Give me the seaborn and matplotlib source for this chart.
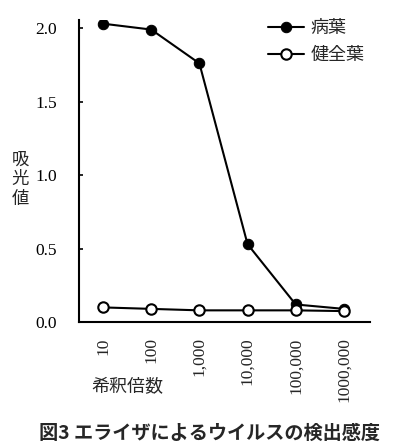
import numpy as np
import pandas as pd
import matplotlib
matplotlib.use("Agg")
import matplotlib.pyplot as plt
import seaborn as sns

dilution_labels = ["10", "100", "1,000", "10,000", "100,000", "1000,000"]
diseased = [2.03, 1.99, 1.76, 0.53, 0.12, 0.09]
healthy = [0.10, 0.09, 0.08, 0.08, 0.08, 0.075]
series_names = ["病葉", "健全葉"]

sns.set_theme(style="ticks")
plt.rcParams['font.family'] = ['Noto Sans CJK JP', 'DejaVu Sans']

pos = np.arange(len(dilution_labels))
df = pd.DataFrame({
    "pos": np.concatenate([pos, pos]),
    "value": diseased + healthy,
    "series": [series_names[0]] * len(pos) + [series_names[1]] * len(pos),
})

fig = plt.figure(figsize=(3.99, 4.48), dpi=100)
ax = fig.add_axes([0.198, 0.281, 0.729, 0.674])

sns.lineplot(data=df[df.series == series_names[0]], x="pos", y="value", ax=ax,
             color="black", lw=1.5, marker="o", markersize=7.5,
             markerfacecolor="black", markeredgecolor="black", label=series_names[0])
sns.lineplot(data=df[df.series == series_names[1]], x="pos", y="value", ax=ax,
             color="black", lw=1.5, marker="o", markersize=7.5,
             markerfacecolor="white", markeredgecolor="black", markeredgewidth=1.5,
             label=series_names[1])

ax.set_xlim(-0.5, 5.54)
ax.set_ylim(0, 2.054)
ax.set_yticks([0, 0.5, 1.0, 1.5, 2.0])
ax.set_yticklabels(["0.0", "0.5", "1.0", "1.5", "2.0"], fontfamily="Liberation Serif", fontsize=12.5)
ax.set_xticks(pos)
ax.set_xticklabels(dilution_labels, rotation=90, fontfamily="Liberation Serif", fontsize=12.5,
                   va="top")
ax.tick_params(axis="y", direction="in", length=3, width=1.2, pad=16, colors="black")
ax.tick_params(axis="x", length=0, pad=11)
for s in ["top", "right"]:
    ax.spines[s].set_visible(False)
for s in ["left", "bottom"]:
    ax.spines[s].set_linewidth(1.5)
    ax.spines[s].set_color("black")
ax.set_xlabel("")
ax.set_ylabel("")

leg = ax.legend(loc="upper left", bbox_to_anchor=(0.65, 1.003), frameon=False,
                fontsize=13, handlelength=2.0, handletextpad=0.35, labelspacing=0.5,
                borderpad=0, borderaxespad=0)

fig.text(0.05, 0.60, "吸\n光\n値", fontsize=12.5, ha="center", va="center", linespacing=1.1)
fig.text(0.23, 0.135, "希釈倍数", fontsize=13, ha="left", va="center")
fig.text(0.525, 0.033, "図3 エライザによるウイルスの検出感度", fontsize=13.8,
         fontweight="bold", ha="center", va="center")

fig.savefig("out.png", dpi=100)
